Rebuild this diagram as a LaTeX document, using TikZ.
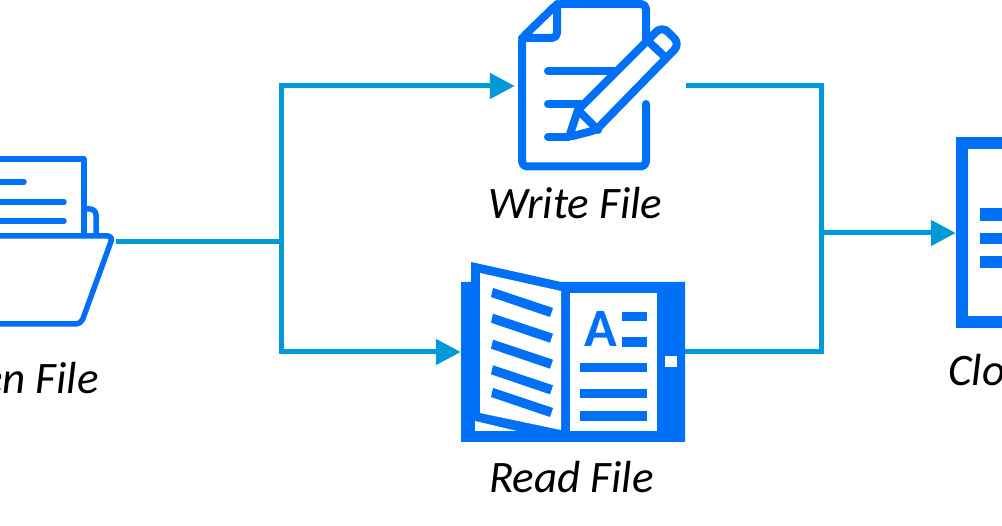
\documentclass[tikz,border=0pt]{standalone}
\usepackage{fontspec}
\setmainfont{Carlito}
\usetikzlibrary{arrows.meta}
\definecolor{iconblue}{HTML}{0070F6}
\definecolor{flowblue}{HTML}{0099D8}
\tikzset{
  flowline/.style={draw=flowblue, line width=5pt},
  flowarrow/.style={flowline, -{Triangle[length=25pt, width=25pt]}},
  iconbox/.style={inner sep=0pt, minimum height=10pt},
  filelabel/.style={font=\itshape\fontsize{45}{45}\selectfont, text=black, inner sep=0pt},
  thinicon/.style={draw=iconblue, line width=5.5pt, line cap=round, line join=round},
  thickicon/.style={draw=iconblue, line width=8pt, line cap=round, line join=round},
  solidicon/.style={fill=iconblue, draw=none},
  paperwhite/.style={fill=white, draw=none}
}
\begin{document}
\begin{tikzpicture}[x=1pt, y=-1pt]
  \useasboundingbox (0,0) rectangle (1002,526);
  \clip (0,0) rectangle (1002,526);
  % anchors for the connectors
  \node[iconbox, minimum width=116pt] (openfile) at (58,242) {};
  \node[iconbox, minimum width=171pt] (writefile) at (600.5,86) {};
  \node[iconbox, minimum width=224pt] (readfile) at (573,352) {};
  \node[iconbox, minimum width=60pt] (closefile) at (986,233) {};
  \coordinate (fork) at (281,242);
  \coordinate (merge) at (821,233);
  % open file
  \draw[thinicon] (-10,159) -- (84,159) -- (84,235);
  \draw[thinicon] (-10,182) -- (24,182);
  \draw[thinicon] (-10,202) -- (64,202);
  \draw[thinicon] (-10,221) -- (64,221);
  \draw[thinicon, rounded corners=6pt] (84,209) -- (96,209) -- (96,235);
  \draw[thinicon, rounded corners=5pt] (-10,236) -- (113,236) -- (81,324) -- (-10,324);
  % write file
  \draw[thickicon, rounded corners=5pt] (646,40) -- (646,4) -- (557,4) -- (522,38) -- (522,166.5) -- (646,166.5) -- (646,104);
  \draw[thickicon, rounded corners=5pt] (557,4) -- (557,38) -- (522,38);
  \draw[thickicon] (548,71) -- (614,71);
  \draw[thickicon] (548,104) -- (582,104);
  \draw[thickicon] (548,137) -- (569,137);
  \draw[thickicon, rounded corners=8pt] (578,110) -- (662,26) -- (680,44) -- (598,128);
  \draw[thickicon, rounded corners=4pt] (598,128) -- (596,130) -- (569,137) -- (578,110);
  \draw[thickicon] (578,110) -- (598,130);
  \draw[thickicon] (648,41) -- (666,58);
  % read file
  \fill[solidicon] (461,282) -- (471,282) -- (471,262) -- (561,282) -- (685,282) -- (685,442) -- (461,442) -- cycle;
  \fill[paperwhite] (480,273) -- (561,291) -- (561,430) -- (480,413) -- cycle;
  \fill[paperwhite] (570,293) rectangle (657,431);
  \fill[paperwhite] (475,421) -- (517,431) -- (475,431) -- cycle;
  \fill[paperwhite] (665,356) rectangle (677,367);
  \foreach \stripe in {0,25.7,51.7,77.3,100}
    \fill[solidicon] (493,288+\stripe) -- (553,308+\stripe) -- (550,317+\stripe) -- (491,297+\stripe) -- cycle;
  \fill[solidicon] (622,312) rectangle (647,321);
  \fill[solidicon] (622,337) rectangle (647,347);
  \fill[solidicon] (580,363) rectangle (647,372);
  \fill[solidicon] (580,389) rectangle (647,398);
  \fill[solidicon] (580,411) rectangle (647,421);
  \node[inner sep=0pt, anchor=base, text=iconblue, font=\bfseries\fontsize{54}{54}\selectfont] (readletter) at (601,347) {A};
  % close file
  \draw[draw=iconblue, line width=12pt] (1012,143) -- (962,143) -- (962,322) -- (1012,322);
  \fill[solidicon] (980,208) rectangle (1012,221);
  \fill[solidicon] (980,233) rectangle (1012,244);
  \fill[solidicon] (980,256) rectangle (1012,268);
  % connectors
  \draw[flowline] (openfile.east) -- (fork);
  \draw[flowarrow] (fork) |- (writefile.west);
  \draw[flowarrow] (fork) |- (readfile.west);
  \draw[flowline] (writefile.east) -| (merge);
  \draw[flowline] (readfile.east) -| (merge);
  \draw[flowarrow] (merge) -- (closefile.west);
  % labels
  \node[filelabel, anchor=base] (writelabel) at (575.5,219) {Write File};
  \node[filelabel, anchor=base] (readlabel) at (571.5,493) {Read File};
  \node[filelabel, anchor=base east] (openlabel) at (99,394) {Open File};
  \node[filelabel, anchor=base west] (closelabel) at (948,386) {Close File};
\end{tikzpicture}
\end{document}
